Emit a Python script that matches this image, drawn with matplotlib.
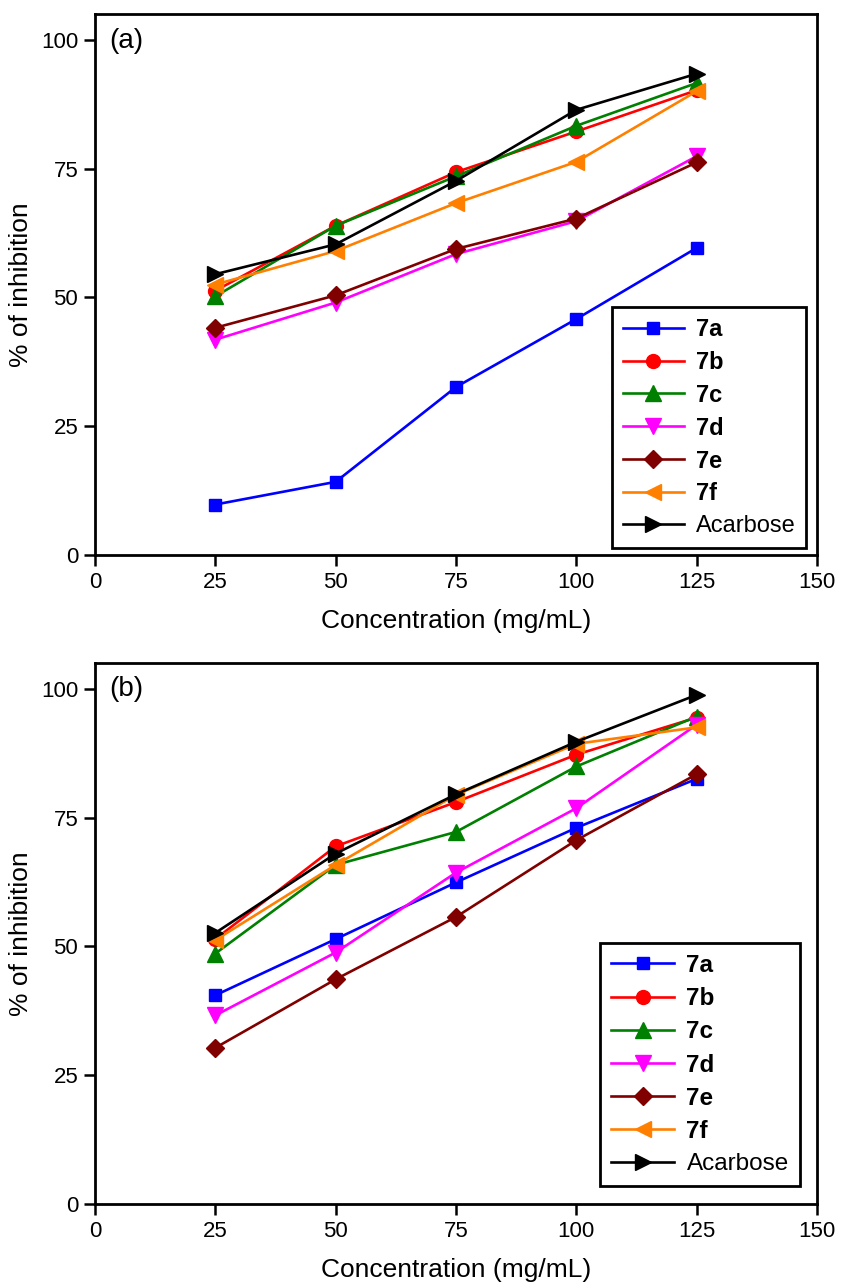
import matplotlib
matplotlib.use("Agg")
import matplotlib.pyplot as plt

conc = [25, 50, 75, 100, 125]

names = ["7a", "7b", "7c", "7d", "7e", "7f", "Acarbose"]

# panel (a)
a_7a = [9.8, 14.2, 32.6, 45.8, 59.6]
a_7b = [51.3, 63.9, 74.3, 82.2, 90.2]
a_7c = [50.2, 63.9, 73.5, 83.3, 91.6]
a_7d = [41.8, 49.0, 58.4, 64.8, 77.4]
a_7e = [44.1, 50.4, 59.4, 65.3, 76.2]
a_7f = [52.5, 59.0, 68.3, 76.3, 90.0]
a_acarbose = [54.5, 60.3, 72.6, 86.4, 93.4]

# panel (b)
b_7a = [40.5, 51.4, 62.4, 73.0, 82.5]
b_7b = [51.4, 69.4, 78.0, 87.2, 94.4]
b_7c = [48.6, 65.8, 72.2, 84.9, 94.6]
b_7d = [36.6, 48.8, 64.3, 76.8, 93.0]
b_7e = [30.3, 43.6, 55.7, 70.6, 83.4]
b_7f = [51.2, 65.8, 79.4, 89.3, 92.5]
b_acarbose = [52.6, 68.0, 79.5, 89.7, 98.8]

colors = ["#0000FF", "#FF0000", "#008000", "#FF00FF", "#800000", "#FF8000", "#000000"]
markers = ["s", "o", "^", "v", "D", "<", ">"]
msizes = [9, 10, 11, 11, 9, 11, 11]

plt.rcParams.update({
    "font.family": ["Liberation Sans", "DejaVu Sans"],
    "font.size": 16,
})

fig = plt.figure(figsize=(8.42, 12.83), dpi=100)
ax_a = fig.add_axes([0.1128, 0.5674, 0.8575, 0.4217])
ax_b = fig.add_axes([0.1128, 0.0616, 0.8575, 0.4217])

panels = [
    (ax_a, [a_7a, a_7b, a_7c, a_7d, a_7e, a_7f, a_acarbose], "(a)", (0.985, 0.013), 17),
    (ax_b, [b_7a, b_7b, b_7c, b_7d, b_7e, b_7f, b_acarbose], "(b)", (0.976, 0.033), 17.5),
]

for ax, series, tag, anchor, lfs in panels:
    for vals, name, c, m, ms in zip(series, names, colors, markers, msizes):
        ax.plot(conc, vals, color=c, marker=m, markersize=ms, lw=1.9,
                markeredgecolor=c, label=name)
    ax.set_xlim(0, 150)
    ax.set_ylim(0, 105)
    ax.set_xticks([0, 25, 50, 75, 100, 125, 150])
    ax.set_yticks([0, 25, 50, 75, 100])
    ax.tick_params(direction="out", length=8, width=1.8, labelsize=16, pad=4)
    for s in ax.spines.values():
        s.set_linewidth(2.0)
    ax.set_xlabel("Concentration (mg/mL)", fontsize=19, labelpad=12)
    ax.set_ylabel("% of inhibition", fontsize=19, labelpad=6)
    ax.text(0.02, 0.975, tag, transform=ax.transAxes, fontsize=20, va="top", ha="left")
    leg = ax.legend(loc="lower right", bbox_to_anchor=anchor, borderaxespad=0,
                    fontsize=lfs, frameon=True, fancybox=False, handlelength=2.6,
                    labelspacing=0.42, borderpad=0.45, handletextpad=0.5,
                    framealpha=1.0)
    leg.get_frame().set_edgecolor("black")
    leg.get_frame().set_linewidth(2.0)
    for t in leg.get_texts():
        if t.get_text() != "Acarbose":
            t.set_fontweight("bold")

fig.savefig("out.png", dpi=100)
plt.close(fig)
